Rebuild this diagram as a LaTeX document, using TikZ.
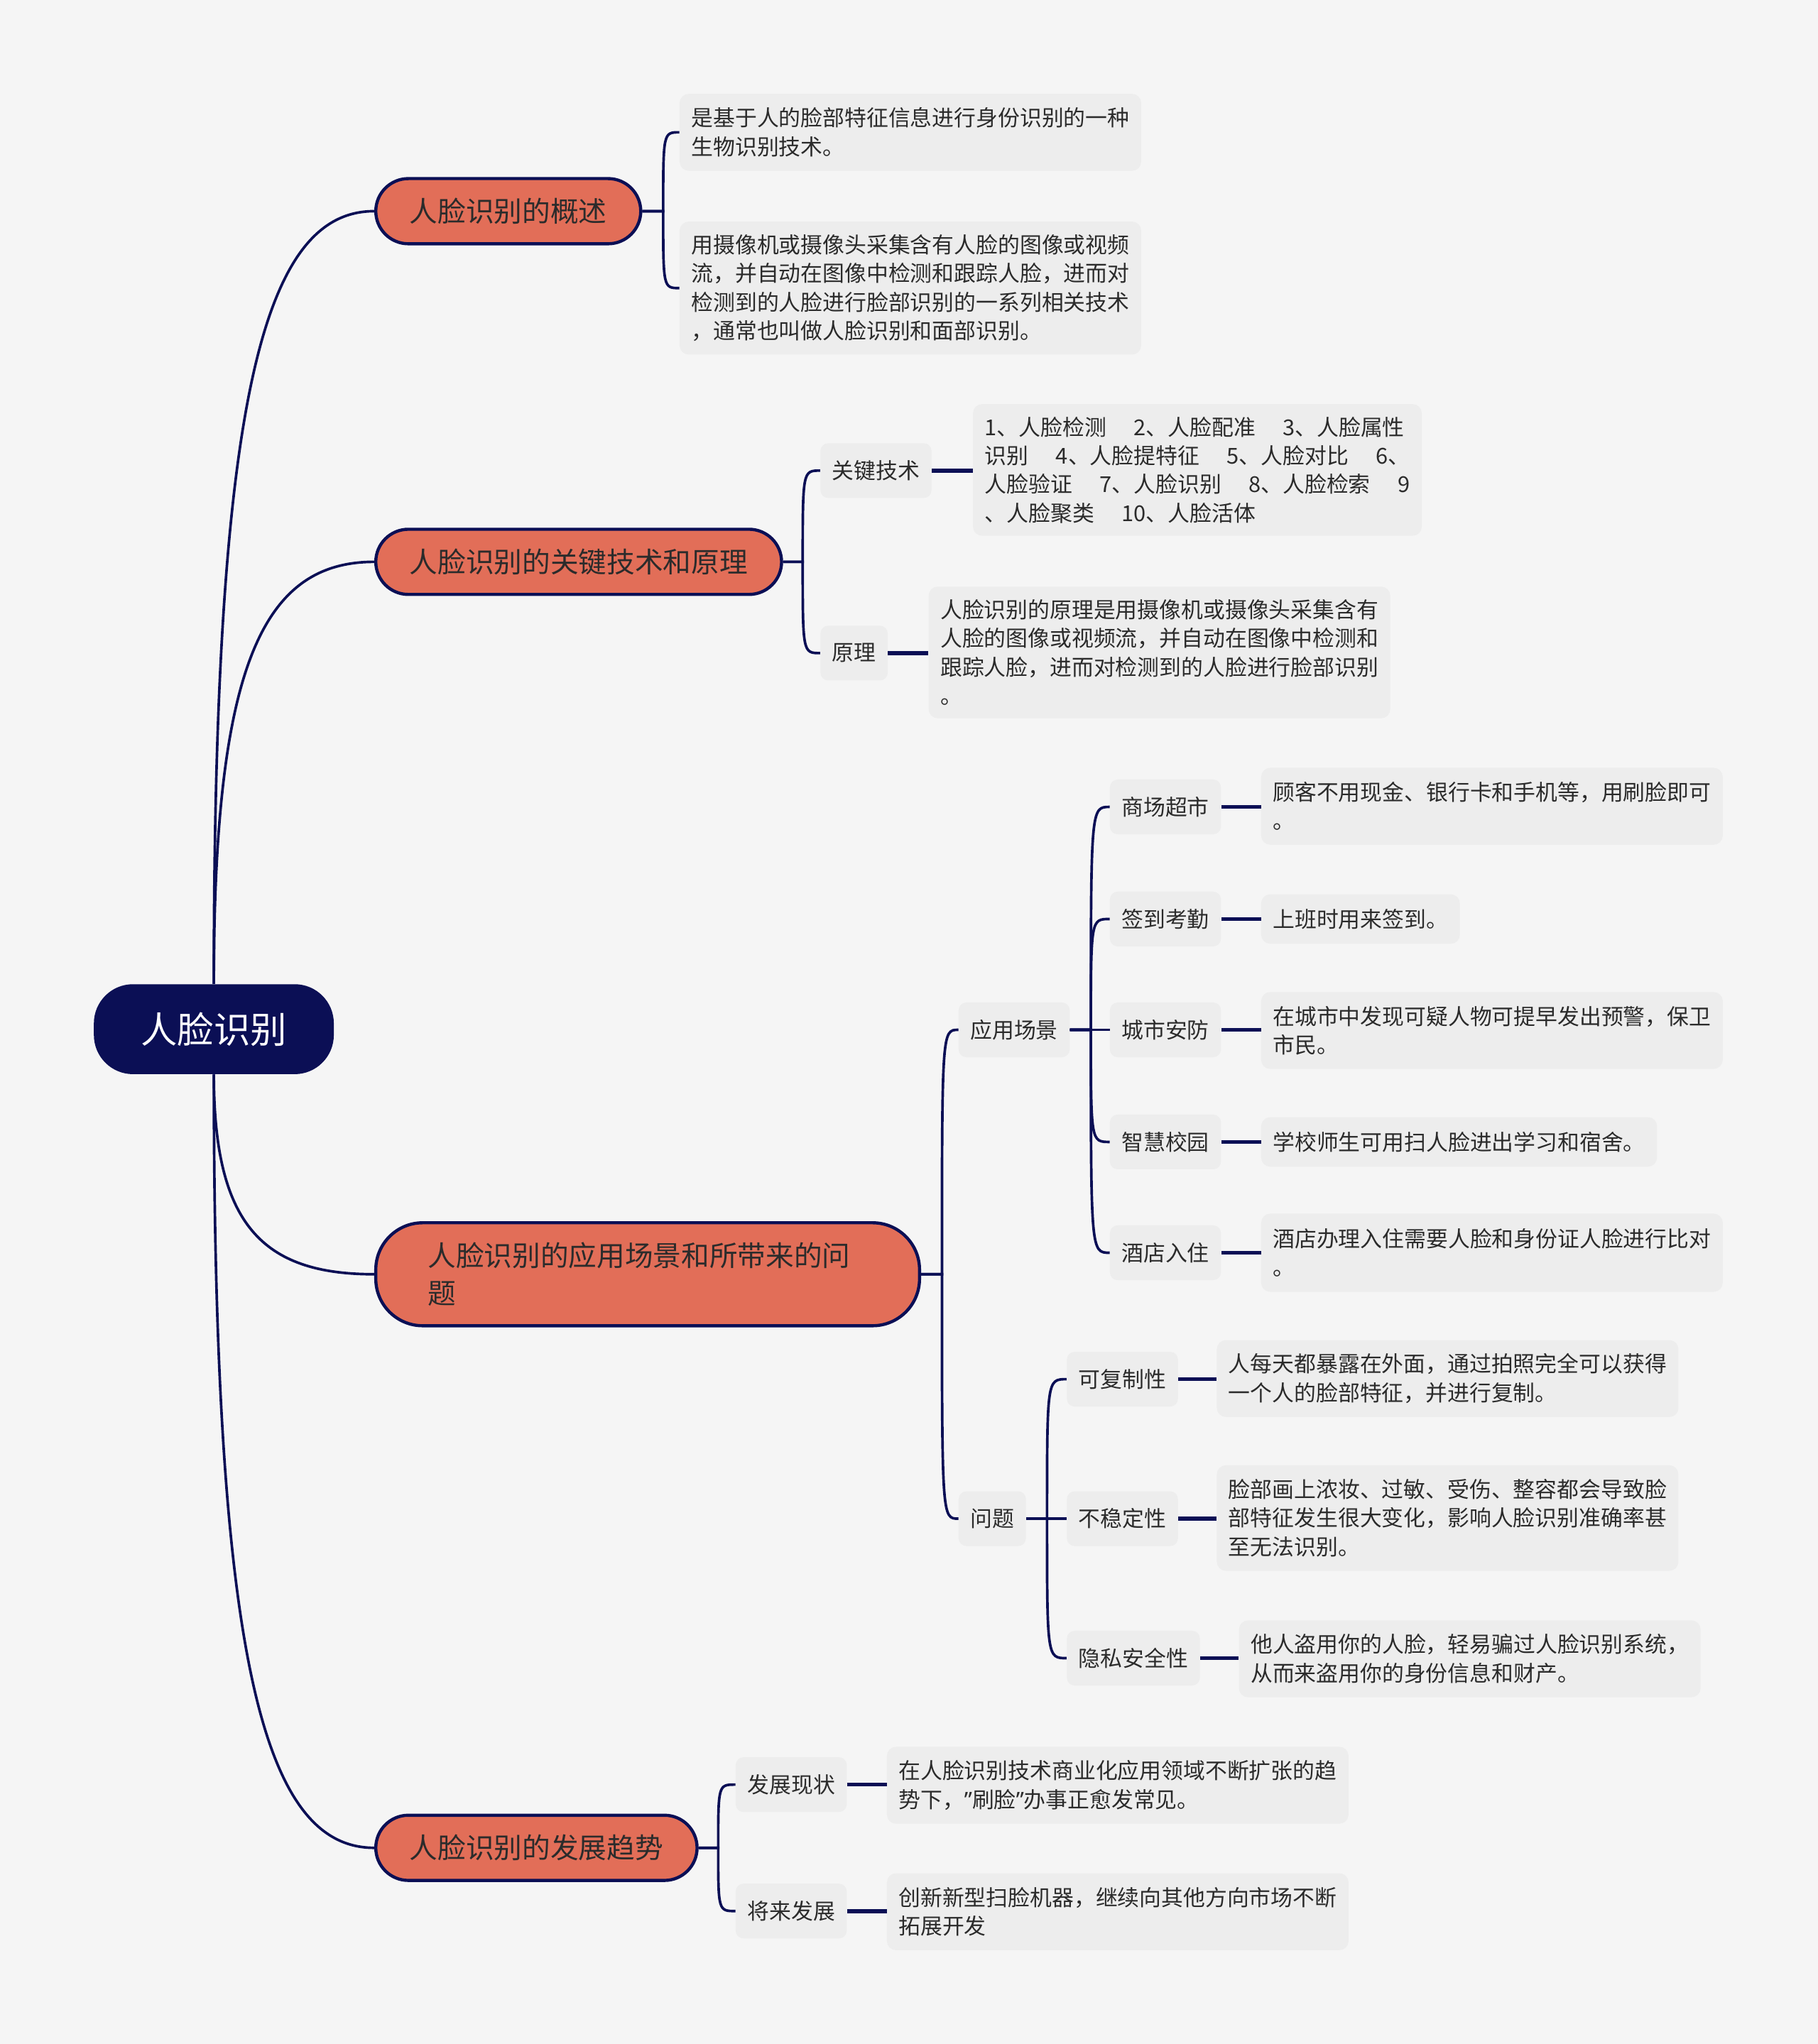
\documentclass[tikz,border=0pt]{standalone}
\usepackage{fontspec}
\setmainfont{Noto Sans CJK SC}
\newfontfamily\latinq{Noto Sans}
\usetikzlibrary{calc}
\definecolor{bgc}{HTML}{F5F5F5}
\definecolor{navy}{HTML}{0B0F55}
\definecolor{salmon}{HTML}{E26E58}
\definecolor{boxc}{HTML}{EDEDED}
\definecolor{txtc}{HTML}{2B2B2B}
\newcommand\gapsp{\hspace{21pt}}
\tikzset{
  rootbox/.style={fill=navy, text=white, rounded corners=30pt, minimum width=184pt, minimum height=69pt, inner sep=0pt, font=\fontsize{28}{34}\selectfont},
  branchbox/.style={fill=salmon, draw=navy, line width=2.4pt, rounded corners=25pt, minimum height=50pt, inner xsep=26pt, inner ysep=0pt, text=txtc, font=\fontsize{21.6}{28.5}\selectfont, anchor=west},
  tagbox/.style={fill=boxc, rounded corners=6pt, minimum height=42pt, inner xsep=9pt, inner ysep=0pt, text=txtc, font=\fontsize{16.8}{22}\selectfont, anchor=west},
  notebox/.style={fill=boxc, rounded corners=7pt, inner xsep=9pt, inner ysep=0pt, align=left, text=txtc, font=\fontsize{16.8}{22}\selectfont, anchor=west},
  conn/.style={draw=navy, line width=2pt},
  stub/.style={draw=navy, line width=3pt},
}
\begin{document}
\begin{tikzpicture}[x=1pt,y=-1pt]
\fill[bgc] (0,0) rectangle (1394,1568);
\useasboundingbox (0,0) rectangle (1394,1568);

% root and main branches
\node[rootbox] (root) at (164,789.5) {人脸识别};
\node[branchbox] (b1) at (287,162) {人脸识别的概述};
\node[branchbox] (b2) at (287,431) {人脸识别的关键技术和原理};
\node[branchbox, text width=337pt, inner xsep=40pt, minimum height=79pt, rounded corners=36pt, align=left] (b3) at (287,977.5) {人脸识别的应用场景和所带来的问\\题};
\node[branchbox] (b4) at (287,1417.5) {人脸识别的发展趋势};

% branch 1
\node[notebox, minimum height=59pt] (n1a) at (521,101.5) {是基于人的脸部特征信息进行身份识别的一种\\生物识别技术。};
\node[notebox, minimum height=102pt] (n1b) at (521,221) {用摄像机或摄像头采集含有人脸的图像或视频\\流，并自动在图像中检测和跟踪人脸，进而对\\检测到的人脸进行脸部识别的一系列相关技术\\，通常也叫做人脸识别和面部识别。};

% branch 2
\node[tagbox] (t2a) at (629,361) {关键技术};
\node[tagbox] (t2b) at (629,501) {原理};
\node[notebox, minimum height=101pt] (n2a) at (746,360.5) {1、人脸检测\gapsp 2、人脸配准\gapsp 3、人脸属性\\识别\gapsp 4、人脸提特征\gapsp 5、人脸对比\gapsp 6、\\人脸验证\gapsp 7、人脸识别\gapsp 8、人脸检索\gapsp 9\\、人脸聚类\gapsp 10、人脸活体};
\node[notebox, minimum height=101pt] (n2b) at (712,500.5) {人脸识别的原理是用摄像机或摄像头采集含有\\人脸的图像或视频流，并自动在图像中检测和\\跟踪人脸，进而对检测到的人脸进行脸部识别\\。};

% branch 3
\node[tagbox] (t3a) at (735,790) {应用场景};
\node[tagbox] (t3b) at (735,1165) {问题};
\node[tagbox] (s1) at (851,619) {商场超市};
\node[tagbox] (s2) at (851,705) {签到考勤};
\node[tagbox] (s3) at (851,790) {城市安防};
\node[tagbox] (s4) at (851,876) {智慧校园};
\node[tagbox] (s5) at (851,961) {酒店入住};
\node[notebox, minimum height=59pt] (ns1) at (967,618.5) {顾客不用现金、银行卡和手机等，用刷脸即可\\。};
\node[notebox, minimum height=38pt] (ns2) at (967,705) {上班时用来签到。};
\node[notebox, minimum height=59pt] (ns3) at (967,790.5) {在城市中发现可疑人物可提早发出预警，保卫\\市民。};
\node[notebox, minimum height=38pt] (ns4) at (967,876) {学校师生可用扫人脸进出学习和宿舍。};
\node[notebox, minimum height=60pt] (ns5) at (967,961) {酒店办理入住需要人脸和身份证人脸进行比对\\。};
\node[tagbox] (p1) at (818,1058) {可复制性};
\node[tagbox] (p2) at (818,1165) {不稳定性};
\node[tagbox] (p3) at (818,1272) {隐私安全性};
\node[notebox, minimum height=59pt] (np1) at (933,1057.5) {人每天都暴露在外面，通过拍照完全可以获得\\一个人的脸部特征，并进行复制。};
\node[notebox, minimum height=81pt] (np2) at (933,1164.5) {脸部画上浓妆、过敏、受伤、整容都会导致脸\\部特征发生很大变化，影响人脸识别准确率甚\\至无法识别。};
\node[notebox, minimum height=59pt] (np3) at (950,1272.5) {他人盗用你的人脸，轻易骗过人脸识别系统，\\从而来盗用你的身份信息和财产。};

% branch 4
\node[tagbox] (t4a) at (564,1369) {发展现状};
\node[tagbox] (t4b) at (564,1466) {将来发展};
\node[notebox, minimum height=59pt] (n4a) at (680,1369.5) {在人脸识别技术商业化应用领域不断扩张的趋\\势下，{\latinq ”}刷脸{\latinq ”}办事正愈发常见。};
\node[notebox, minimum height=59pt] (n4b) at (680,1466.5) {创新新型扫脸机器，继续向其他方向市场不断\\拓展开发};

% root connectors
\draw[conn] (root.north) .. controls +(0,-445) and +(-86,0) .. (b1.west);
\draw[conn] (root.north) .. controls +(0,-243) and +(-86,0) .. (b2.west);
\draw[conn] (root.south) .. controls +(0,115) and +(-86,0) .. (b3.west);
\draw[conn] (root.south) .. controls +(0,445) and +(-86,0) .. (b4.west);

% junctions
\coordinate (j1) at ($(b1.east)+(16,0)$);
\coordinate (j2) at ($(b2.east)+(15,0)$);
\coordinate (j3) at ($(b3.east)+(16,0)$);
\coordinate (j4) at ($(b4.east)+(15,0)$);
\coordinate (j3a) at ($(t3a.east)+(16,0)$);
\coordinate (j3b) at ($(t3b.east)+(16,0)$);

\foreach \c in {n1a,n1b} \draw[conn] (b1.east) -- (j1) .. controls (j1 |- \c.west) .. (\c.west);
\foreach \c in {t2a,t2b} \draw[conn] (b2.east) -- (j2) .. controls (j2 |- \c.west) .. (\c.west);
\foreach \c in {t3a,t3b} \draw[conn] (b3.east) -- (j3) .. controls (j3 |- \c.west) .. (\c.west);
\foreach \c in {t4a,t4b} \draw[conn] (b4.east) -- (j4) .. controls (j4 |- \c.west) .. (\c.west);
\foreach \c in {s1,s2,s3,s4,s5} \draw[conn] (t3a.east) -- (j3a) .. controls (j3a |- \c.west) .. (\c.west);
\foreach \c in {p1,p2,p3} \draw[conn] (t3b.east) -- (j3b) .. controls (j3b |- \c.west) .. (\c.west);

% tag to note stubs
\draw[stub] (t2a.east) -- (t2a.east -| n2a.west);
\draw[stub] (t2b.east) -- (t2b.east -| n2b.west);
\draw[stub] (s1.east) -- (s1.east -| ns1.west);
\draw[stub] (s2.east) -- (s2.east -| ns2.west);
\draw[stub] (s3.east) -- (s3.east -| ns3.west);
\draw[stub] (s4.east) -- (s4.east -| ns4.west);
\draw[stub] (s5.east) -- (s5.east -| ns5.west);
\draw[stub] (p1.east) -- (p1.east -| np1.west);
\draw[stub] (p2.east) -- (p2.east -| np2.west);
\draw[stub] (p3.east) -- (p3.east -| np3.west);
\draw[stub] (t4a.east) -- (t4a.east -| n4a.west);
\draw[stub] (t4b.east) -- (t4b.east -| n4b.west);
\end{tikzpicture}
\end{document}
